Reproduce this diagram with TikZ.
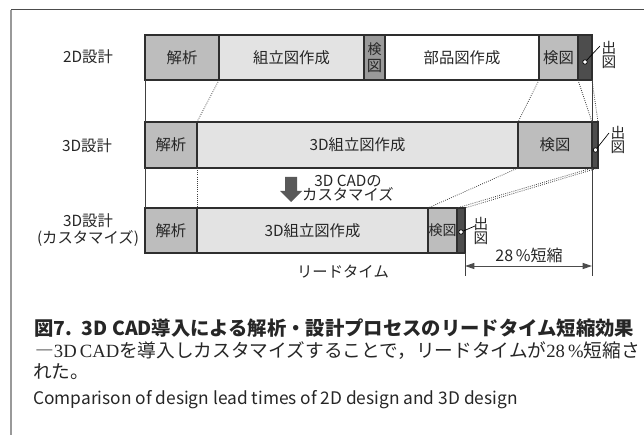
\documentclass[tikz,border=0pt]{standalone}
\usepackage{fontspec}
\setmainfont{Noto Sans CJK JP}
\newfontfamily\serifl{Liberation Serif}
\usetikzlibrary{arrows.meta}
\definecolor{g1}{HTML}{E3E3E3}
\definecolor{g2}{HTML}{BDBDBD}
\definecolor{g3}{HTML}{9A9A9A}
\definecolor{gd}{HTML}{4D4D4D}
\definecolor{bordc}{HTML}{2E2E2E}
\definecolor{txtc}{HTML}{262626}
% name, x1, x2, y1, y2, fill, text
\newcommand\mkseg[7]{%
  \node[seg,fill=#6,minimum width={(#3-#2)*0.75pt},minimum height={(#5-#4)*0.75pt}]
    (#1) at ({(#2+#3)/2},{(#4+#5)/2}) {#7};}
\begin{document}
\begin{tikzpicture}[x=0.75pt,y=-0.75pt,
  seg/.style={draw=bordc,line width=0.9pt,inner sep=0pt,outer sep=0pt,
    font=\fontsize{11.5}{13}\selectfont,text=txtc,align=center},
  dotl/.style={densely dotted,line width=0.6pt,draw=black!75},
  thinl/.style={line width=0.6pt,draw=black!75},
  lbl/.style={font=\fontsize{11.5}{12.8}\selectfont,inner sep=0pt,align=center,text=txtc},
  small/.style={font=\fontsize{11}{11}\selectfont,inner sep=0pt,align=center,text=txtc},
  dotn/.style={circle,draw=black,fill=white,line width=0.5pt,inner sep=0pt,minimum size=3.4pt},
  dim/.style={line width=0.7pt,draw=black!70,{Triangle[length=7pt,width=4.5pt]}-{Triangle[length=7pt,width=4.5pt]}}]
\useasboundingbox (0,0) rectangle (644,435);
% frame
\draw[black!40,line width=1.5pt] (11,10) -- (11,435);
\draw[black!70,line width=0.75pt] (11,10) -- (644,10);

% row labels
\node[lbl] (l1) at (88,57) {2D設計};
\node[lbl] (l2) at (87,146) {3D設計};
\node[lbl] (l3) at (88,230) {3D設計\\(カスタマイズ)};

% free ends of the reference lines
\coordinate (v2) at (592,276);
\coordinate (v1) at (465,276);

% row 1
\mkseg{r1a}{145}{219}{35}{80}{g2}{解析}
\mkseg{r1b}{219}{364}{35}{80}{g1}{組立図作成}
\mkseg{r1c}{364}{385}{35}{80}{g3}{\fontsize{10.5}{11.5}\selectfont 検\\図}
\mkseg{r1d}{385}{539}{35}{80}{white}{部品図作成}
\mkseg{r1e}{539}{578}{35}{80}{g2}{検図}
\mkseg{r1f}{578}{592}{35}{80}{gd}{}
% row 2
\mkseg{r2a}{145}{197}{122}{168}{g2}{解析}
\mkseg{r2b}{197}{518}{122}{168}{g1}{3D組立図作成}
\mkseg{r2c}{518}{592}{122}{168}{g2}{検図}
\mkseg{r2d}{592}{598}{122}{168}{gd}{}
% row 3
\mkseg{r3a}{145}{197}{208}{253}{g2}{解析}
\mkseg{r3b}{197}{428}{208}{253}{g1}{3D組立図作成}
\mkseg{r3c}{428}{457}{208}{253}{g2}{\fontsize{10.5}{12}\selectfont 検図}
\mkseg{r3d}{457}{465}{208}{253}{gd}{}

% left border between rows
\draw[thinl] (r1a.south west) -- (r2a.north west);
\draw[thinl] (r2a.south west) -- (r3a.north west);
% right reference lines
\draw[thinl] (r1f.south east) -- (r2c.north east);
\draw[thinl] (r2c.south east) -- (v2);
\draw[thinl] (r3d.south east) -- (v1);

% dotted connectors row1 -> row2
\draw[dotl] (r1a.south east) -- (r2a.north east);
\draw[dotl] (r1d.south east) -- (r2c.north west);
\draw[dotl] (r1e.south east) -- (r2d.north west);
\draw[dotl] (r1f.south east) -- (r2d.north east);
% row2 -> row3
\draw[dotl] (r2a.south east) -- (r3a.north east);
\draw[dotl] (r2b.south east) -- (r3c.north west);
\draw[dotl] (r2c.south east) -- (r3d.north west);
\draw[dotl] (r2d.south east) -- (r3d.north east);

% 出図 labels with leaders
\node[small] (o1) at (609,55) {出\\図};
\node[dotn] (d1) at (585,62) {};
\coordinate (e1) at (600,46);
\draw[line width=0.5pt] (d1) -- (e1);

\node[small] (o2) at (618,140) {出\\図};
\node[dotn] (d2) at (595.5,150) {};
\coordinate (e2) at (609,133);
\draw[line width=0.5pt] (d2) -- (e2);

\node[small] (o3) at (481,231) {出\\図};
\node[dotn] (d3) at (461,232) {};
\coordinate (e3) at (475,226);
\draw[line width=0.5pt] (d3) -- (e3);

% customization arrow and text
\fill[black!65] (285,177) -- (297,177) -- (297,191) -- (302,191) -- (291,202) -- (280,191) -- (285,191) -- cycle;
\node[lbl,font=\fontsize{11.5}{10.9}\selectfont] (cust) at (348,188) {3D CADの\\カスタマイズ};

% lead time
\node[lbl] (lead) at (343,272) {リードタイム};
\coordinate (dl) at (465,266);
\coordinate (dr) at (592,266);
\draw[dim] (dl) -- (dr);
\node[lbl,font=\fontsize{12}{13}\selectfont] (pct) at (529,255) {28\,\%短縮};

% caption
\node[anchor=west,inner sep=0pt,text=txtc] (title) at (34,328)
  {\fontsize{14.5}{17}\selectfont\bfseries 図7.\hspace{0.5em}3D CAD導入による解析・設計プロセスのリードタイム短縮効果};
\node[anchor=west,inner sep=0pt,text=txtc] (cap1) at (35,351)
  {\fontsize{14}{16}\selectfont ―{\serifl 3D\,CAD}を導入しカスタマイズすることで，リードタイムが{\serifl 28\,\%}短縮さ};
\node[anchor=west,inner sep=0pt,text=txtc] (cap2) at (33,372)
  {\fontsize{14}{16}\selectfont れた。};
\node[anchor=west,inner sep=0pt,text=txtc] (eng) at (33,400)
  {\fontsize{13}{15}\selectfont Comparison of design lead times of 2D design and 3D design};
\end{tikzpicture}
\end{document}
